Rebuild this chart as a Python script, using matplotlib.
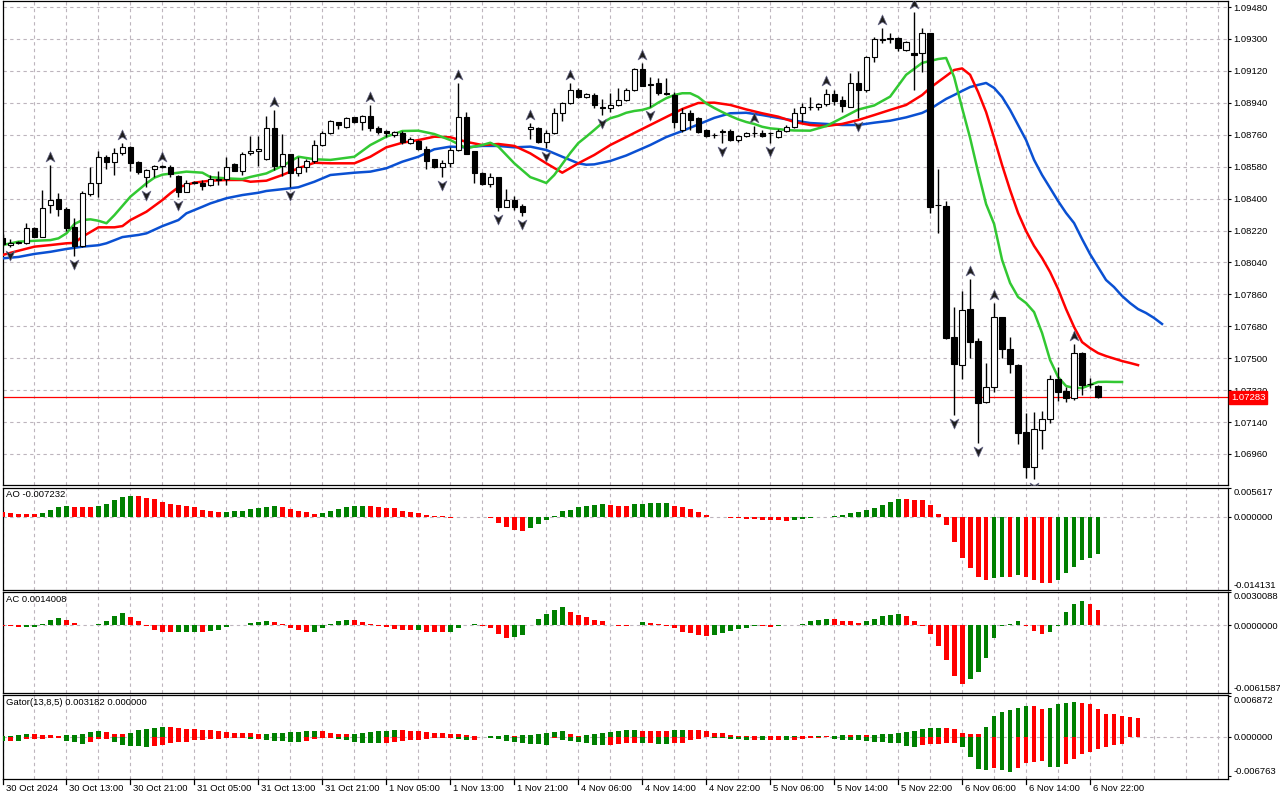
import matplotlib
matplotlib.use("Agg")
import matplotlib.pyplot as plt
import numpy as np
from matplotlib.path import Path
from matplotlib import transforms as mtrans

# ---------------- data ----------------
opens = [1.08178,1.08138,1.08149,1.08149,1.08234,1.08183,1.08364,1.08398,1.08341,1.08240,
1.08133,1.08426,1.08488,1.08634,1.08606,1.08657,1.08691,1.08606,1.08522,1.08567,
1.08584,1.08578,1.08527,1.08437,1.08488,1.08488,1.08477,1.08505,1.08510,1.08595,
1.08556,1.08657,1.08668,1.08623,1.08798,1.08584,1.08651,1.08544,1.08578,1.08612,
1.08702,1.08770,1.08832,1.08804,1.08860,1.08832,1.08866,1.08798,1.08781,1.08759,
1.08770,1.08713,1.08725,1.08680,1.08623,1.08578,1.08601,1.08674,1.08860,1.08668,
1.08544,1.08482,1.08522,1.08352,1.08392,1.08358,1.08792,1.08798,1.08719,1.08770,
1.08883,1.08939,1.09012,1.08973,1.08984,1.08917,1.08911,1.08928,1.08956,1.09012,
1.09131,1.09046,1.09052,1.08996,1.08984,1.08787,1.08883,1.08854,1.08787,1.08759,
1.08776,1.08781,1.08730,1.08753,1.08770,1.08770,1.08770,1.08747,1.08781,1.08804,
1.08883,1.08917,1.08917,1.08933,1.08990,1.08956,1.08917,1.09052,1.09012,1.09199,
1.09300,1.09300,1.09306,1.09238,1.09221,1.09221,1.09334,1.08364,1.08358,1.07619,
1.07461,1.07777,1.07597,1.07253,1.07337,1.07732,1.07552,1.07461,1.07084,1.06886,
1.07095,1.07157,1.07382,1.07315,1.07275,1.07529,1.07354,1.07343]
highs = [1.08200,1.08172,1.08161,1.08262,1.08240,1.08448,1.08589,1.08431,1.08352,1.08290,
1.08443,1.08578,1.08668,1.08646,1.08685,1.08713,1.08697,1.08612,1.08567,1.08589,
1.08589,1.08589,1.08533,1.08505,1.08499,1.08505,1.08533,1.08556,1.08634,1.08601,
1.08663,1.08753,1.08753,1.08866,1.08900,1.08764,1.08651,1.08634,1.08623,1.08730,
1.08781,1.08843,1.08832,1.08860,1.08860,1.08871,1.08928,1.08809,1.08787,1.08781,
1.08781,1.08747,1.08730,1.08697,1.08623,1.08618,1.08691,1.09052,1.08888,1.08668,
1.08550,1.08544,1.08522,1.08454,1.08415,1.08369,1.08826,1.08804,1.08787,1.08911,
1.08945,1.09052,1.09024,1.08996,1.08996,1.08962,1.08996,1.09024,1.09024,1.09137,
1.09165,1.09086,1.09080,1.09080,1.09001,1.08911,1.08900,1.08860,1.08792,1.08770,
1.08792,1.08792,1.08759,1.08776,1.08809,1.08787,1.08776,1.08792,1.08815,1.08911,
1.08939,1.08973,1.08939,1.09018,1.09012,1.08979,1.09108,1.09120,1.09204,1.09311,
1.09362,1.09334,1.09311,1.09289,1.09452,1.09362,1.09334,1.08567,1.08386,1.07789,
1.07879,1.07946,1.07614,1.07473,1.07811,1.07732,1.07619,1.07467,1.07191,1.07196,
1.07202,1.07405,1.07450,1.07337,1.07580,1.07535,1.07388,1.07349]
lows = [1.08133,1.08127,1.08144,1.08144,1.08183,1.08183,1.08319,1.08302,1.08217,1.08076,
1.08127,1.08415,1.08409,1.08567,1.08533,1.08646,1.08556,1.08539,1.08465,1.08522,
1.08573,1.08522,1.08409,1.08437,1.08482,1.08448,1.08471,1.08477,1.08477,1.08556,
1.08533,1.08646,1.08584,1.08618,1.08561,1.08527,1.08465,1.08527,1.08550,1.08601,
1.08697,1.08764,1.08792,1.08798,1.08826,1.08787,1.08781,1.08764,1.08747,1.08747,
1.08708,1.08708,1.08674,1.08567,1.08573,1.08522,1.08578,1.08668,1.08651,1.08488,
1.08477,1.08465,1.08330,1.08352,1.08338,1.08302,1.08736,1.08713,1.08685,1.08764,
1.08838,1.08933,1.08967,1.08967,1.08911,1.08871,1.08888,1.08922,1.08950,1.09007,
1.09035,1.08917,1.08984,1.08984,1.08798,1.08776,1.08787,1.08770,1.08747,1.08742,
1.08713,1.08725,1.08719,1.08747,1.08747,1.08747,1.08713,1.08742,1.08776,1.08798,
1.08832,1.08900,1.08900,1.08922,1.08928,1.08888,1.08917,1.08854,1.09001,1.09170,
1.09278,1.09278,1.09232,1.09232,1.09012,1.09114,1.08319,1.08206,1.07608,1.07179,
1.07382,1.07501,1.07022,1.07247,1.07309,1.07501,1.07416,1.07016,1.06824,1.06818,
1.06988,1.07134,1.07258,1.07253,1.07264,1.07292,1.07332,1.07275]
closes = [1.08144,1.08149,1.08155,1.08234,1.08183,1.08347,1.08392,1.08341,1.08234,1.08133,
1.08431,1.08488,1.08634,1.08606,1.08657,1.08691,1.08601,1.08550,1.08561,1.08584,
1.08578,1.08539,1.08437,1.08488,1.08494,1.08471,1.08510,1.08510,1.08578,1.08556,
1.08651,1.08668,1.08680,1.08798,1.08584,1.08651,1.08544,1.08578,1.08612,1.08702,
1.08770,1.08838,1.08815,1.08854,1.08832,1.08866,1.08798,1.08776,1.08770,1.08776,
1.08719,1.08736,1.08680,1.08612,1.08578,1.08601,1.08674,1.08860,1.08651,1.08544,
1.08482,1.08522,1.08352,1.08392,1.08352,1.08324,1.08804,1.08719,1.08770,1.08883,
1.08939,1.09012,1.08973,1.08990,1.08928,1.08911,1.08928,1.08956,1.09012,1.09131,
1.09035,1.09041,1.08996,1.08990,1.08832,1.08883,1.08843,1.08776,1.08753,1.08757,
1.08781,1.08730,1.08753,1.08770,1.08772,1.08753,1.08768,1.08781,1.08804,1.08883,
1.08917,1.08915,1.08933,1.08990,1.08950,1.08922,1.09052,1.09012,1.09199,1.09300,
1.09294,1.09306,1.09249,1.09283,1.09210,1.09334,1.08352,1.08362,1.07614,1.07467,
1.07772,1.07591,1.07247,1.07337,1.07732,1.07552,1.07467,1.07078,1.06886,1.07100,
1.07157,1.07382,1.07309,1.07275,1.07529,1.07349,1.07352,1.07283]
current_price = 1.07283

# Alligator (read at sampled bars)
jaw_bars = [0,2,4,6,8,10,12,13,15,17,18,20,22,23,25,26,28,30,32,33,35,37,39,41,44,46,48,50,52,54,56,58,60,62,64,66,68,70,72,73,74,76,78,81,83,85,87,89,91,93,95,97,99,101,103,105,107,109,111,113,115,116,117,118,119,120,121,122,123,124,125,126,127,128,129,130,131,132,133,134,135,136,137,138,139,140,141,142,143,144,145]
jaw_vals = [1.08063,1.08071,1.08088,1.08100,1.08116,1.08129,1.08137,1.08148,1.08183,1.08195,1.08204,1.08245,1.08279,1.08317,1.08354,1.08373,1.08402,1.08420,1.08433,1.08443,1.08453,1.08464,1.08495,1.08533,1.08546,1.08552,1.08571,1.08608,1.08636,1.08678,1.08693,1.08689,1.08697,1.08697,1.08689,1.08693,1.08674,1.08636,1.08599,1.08591,1.08593,1.08612,1.08643,1.08702,1.08747,1.08781,1.08818,1.08855,1.08881,1.08884,1.08871,1.08855,1.08840,1.08826,1.08821,1.08815,1.08815,1.08828,1.08839,1.08858,1.08883,1.08905,1.08934,1.08962,1.08984,1.09007,1.09029,1.09041,1.09052,1.09024,1.08973,1.08900,1.08815,1.08730,1.08618,1.08533,1.08460,1.08386,1.08319,1.08262,1.08172,1.08087,1.08014,1.07941,1.07901,1.07851,1.07811,1.07777,1.07755,1.07727,1.07693]
teeth_bars = [0,2,4,6,8,9,10,12,14,15,16,18,20,21,22,24,26,28,30,31,33,35,37,39,41,44,46,48,50,52,54,56,58,60,62,64,66,68,70,72,74,76,78,79,81,83,85,87,89,91,93,95,97,99,101,103,105,107,109,111,113,115,116,117,118,119,120,121,122,123,124,125,126,127,128,129,130,131,132,133,134,135,136,137,138,139,140,141,142]
teeth_vals = [1.08082,1.08106,1.08129,1.08138,1.08148,1.08150,1.08185,1.08238,1.08238,1.08245,1.08279,1.08326,1.08392,1.08430,1.08464,1.08490,1.08501,1.08505,1.08505,1.08495,1.08501,1.08533,1.08571,1.08602,1.08599,1.08599,1.08636,1.08689,1.08715,1.08730,1.08749,1.08746,1.08720,1.08702,1.08708,1.08697,1.08655,1.08599,1.08546,1.08599,1.08646,1.08702,1.08747,1.08770,1.08815,1.08860,1.08905,1.08939,1.08941,1.08928,1.08903,1.08881,1.08862,1.08832,1.08815,1.08809,1.08821,1.08843,1.08871,1.08900,1.08928,1.08984,1.09024,1.09058,1.09091,1.09125,1.09134,1.09098,1.09001,1.08888,1.08742,1.08589,1.08448,1.08319,1.08217,1.08133,1.08065,1.07986,1.07890,1.07777,1.07676,1.07591,1.07557,1.07529,1.07512,1.07498,1.07484,1.07473,1.07461]
lips_bars = [0,2,4,6,7,8,9,10,11,12,13,14,16,18,19,20,22,23,25,26,28,30,31,33,35,37,39,41,44,46,48,50,52,54,56,58,60,61,62,64,66,67,68,69,70,71,72,73,74,75,76,77,78,79,80,81,82,83,84,85,86,87,88,89,90,91,92,93,94,95,96,97,98,99,101,103,105,107,109,111,113,115,117,118,119,120,121,122,123,124,125,126,127,128,129,130,131,132,133,134,135,136,137,138,139,140]
lips_vals = [1.08138,1.08157,1.08162,1.08166,1.08176,1.08204,1.08257,1.08279,1.08283,1.08275,1.08261,1.08307,1.08411,1.08486,1.08518,1.08535,1.08546,1.08552,1.08546,1.08521,1.08514,1.08510,1.08522,1.08542,1.08584,1.08636,1.08622,1.08618,1.08636,1.08702,1.08749,1.08781,1.08783,1.08764,1.08730,1.08684,1.08702,1.08715,1.08693,1.08599,1.08521,1.08505,1.08488,1.08533,1.08595,1.08657,1.08713,1.08749,1.08787,1.08826,1.08853,1.08866,1.08884,1.08894,1.08900,1.08913,1.08941,1.08966,1.08984,1.08994,1.08994,1.08973,1.08937,1.08911,1.08888,1.08866,1.08847,1.08832,1.08821,1.08805,1.08796,1.08792,1.08787,1.08784,1.08783,1.08809,1.08855,1.08902,1.08925,1.08975,1.09098,1.09165,1.09187,1.09193,1.09086,1.08911,1.08742,1.08550,1.08369,1.08257,1.08054,1.07924,1.07845,1.07811,1.07760,1.07642,1.07490,1.07394,1.07343,1.07332,1.07332,1.07349,1.07366,1.07367,1.07366,1.07366]

fractal_up = [6,15,20,34,46,57,66,71,80,94,103,110,114,121,124,134]
fractal_down = [1,9,18,22,36,55,62,65,68,75,81,90,96,107,119,122,129]

# Awesome Oscillator, x1e-3
ao_milli = [0.86,0.66,0.59,0.58,0.57,0.79,1.32,1.78,1.97,1.95,1.78,1.77,1.97,2.37,3.16,3.75,3.95,3.93,3.62,3.36,
2.76,2.50,2.17,1.97,1.78,1.32,1.18,0.97,0.99,1.05,1.18,1.38,1.65,1.91,1.97,1.95,1.38,1.05,0.86,0.59,
0.79,1.18,1.38,1.78,1.97,1.99,1.96,1.78,1.76,1.58,1.18,0.99,0.79,0.39,0.13,0.05,-0.20,-0.05,0.01,-0.05,
-0.10,-0.33,-1.18,-1.97,-2.63,-2.76,-2.10,-1.32,-0.66,0.10,1.18,1.32,1.78,2.11,2.30,2.35,2.15,2.12,2.10,2.37,
2.50,2.55,2.58,2.60,2.11,1.78,1.38,0.99,0.39,-0.02,-0.07,-0.20,-0.33,-0.46,-0.47,-0.59,-0.72,-0.73,-0.92,-0.66,
-0.46,-0.26,-0.13,-0.07,0.20,0.39,0.79,0.86,1.25,1.58,2.24,2.90,3.40,3.36,3.30,3.16,2.17,0.59,-1.65,-4.94,
-7.90,-9.87,-11.58,-12.30,-11.84,-11.65,-11.70,-11.32,-11.66,-12.24,-12.77,-12.80,-12.17,-10.86,-9.67,-8.42,-7.90,-7.232]
# Accelerator Oscillator, x1e-3
ac_milli = [-0.06,-0.09,-0.18,-0.15,-0.14,0.09,0.51,0.70,0.51,0.24,0.00,-0.02,0.09,0.42,0.88,1.15,0.79,0.42,-0.03,-0.45,
-0.64,-0.65,-0.62,-0.60,-0.58,-0.64,-0.54,-0.45,-0.15,0.00,0.06,0.24,0.27,0.36,0.33,0.09,-0.24,-0.42,-0.62,-0.60,
-0.27,0.15,0.42,0.51,0.50,0.33,0.15,-0.03,-0.18,-0.30,-0.39,-0.45,-0.44,-0.57,-0.58,-0.64,-0.57,-0.27,0.06,0.07,
-0.05,-0.27,-0.82,-1.18,-1.09,-0.91,0.00,0.60,1.06,1.39,1.69,1.24,0.97,0.79,0.51,0.36,-0.02,-0.05,-0.09,0.05,
0.27,0.21,0.12,-0.09,-0.24,-0.63,-0.70,-0.88,-0.97,-0.88,-0.73,-0.54,-0.33,-0.24,-0.09,-0.10,-0.15,-0.03,0.00,0.02,
0.09,0.36,0.45,0.54,0.53,0.36,0.35,0.24,0.36,0.54,0.88,0.97,0.98,0.82,0.36,-0.03,-0.79,-1.91,-3.12,-4.57,
-5.32,-4.87,-4.23,-2.96,-1.15,-0.09,0.15,0.36,-0.03,-0.51,-0.79,-0.60,-0.03,1.18,1.94,2.18,1.94,1.4008]
# Gator oscillator, x1e-3
gator_up_milli = [0.11,0.17,0.28,0.45,0.44,0.34,0.23,0.11,0.23,0.34,0.40,0.80,0.97,0.80,0.45,0.44,0.68,1.14,1.36,1.53,
1.65,1.64,1.48,1.36,1.25,1.14,1.13,0.91,0.80,0.63,0.62,0.61,0.45,0.46,0.63,0.64,0.80,0.81,0.97,0.98,
0.96,0.63,0.45,0.44,0.46,0.63,0.80,0.97,0.98,1.14,1.13,0.97,0.96,0.80,0.63,0.62,0.45,0.44,0.28,0.11,
0.03,0.06,0.11,0.23,0.11,0.23,0.28,0.45,0.63,0.80,0.97,0.45,0.06,0.28,0.40,0.55,0.80,0.97,1.08,1.19,
0.97,0.96,0.95,0.94,1.14,1.15,1.13,1.10,0.91,0.68,0.57,0.34,0.11,0.10,0.08,0.10,0.09,0.08,0.10,0.11,
0.10,0.09,0.12,0.11,0.17,0.28,0.27,0.34,0.33,0.34,0.40,0.51,0.57,0.80,0.97,1.36,1.42,1.43,1.42,1.25,
0.68,0.40,0.39,1.70,3.52,4.20,4.55,4.94,5.23,5.20,4.77,4.94,5.51,5.80,5.91,5.80,5.51,4.66,3.92,3.81,
3.52,3.41,3.182]
gator_down_milli = [-0.68,-0.68,-0.69,-0.40,-0.34,-0.33,-0.28,-0.23,-0.68,-0.97,-1.25,-0.91,-0.40,-0.34,-0.85,-1.42,-1.53,-1.59,-1.70,-1.53,
-1.42,-1.02,-0.85,-0.84,-0.57,-0.56,-0.40,-0.34,-0.17,-0.16,-0.15,-0.34,-0.33,-0.57,-0.68,-0.69,-0.85,-0.86,-0.68,-0.34,
-0.17,-0.16,-0.34,-0.51,-0.85,-1.02,-1.03,-1.04,-1.02,-0.85,-0.68,-0.51,-0.50,-0.34,-0.17,-0.16,-0.15,-0.34,-0.51,-0.50,
-0.10,-0.17,-0.40,-0.68,-0.85,-1.02,-1.19,-1.20,-1.42,-0.25,-0.51,-0.68,-0.91,-1.14,-1.42,-1.48,-1.40,-1.25,-1.15,-1.05,
-1.06,-1.00,-1.19,-1.20,-1.02,-1.00,-0.60,-0.35,-0.06,-0.17,-0.18,-0.45,-0.46,-0.62,-0.61,-0.63,-0.60,-0.55,-0.57,-0.50,
-0.45,-0.30,-0.17,-0.10,-0.34,-0.62,-0.63,-0.64,-0.74,-0.85,-0.86,-1.02,-1.14,-1.59,-1.70,-1.48,-1.31,-1.19,-1.02,-1.00,
-1.76,-3.41,-5.57,-5.68,-5.28,-5.68,-5.97,-5.28,-4.43,-4.32,-4.20,-5.17,-5.18,-4.60,-3.75,-3.01,-2.61,-2.10,-1.70,-1.48,
-1.30]

time_labels = ["30 Oct 2024","30 Oct 13:00","30 Oct 21:00","31 Oct 05:00","31 Oct 13:00","31 Oct 21:00",
               "1 Nov 05:00","1 Nov 13:00","1 Nov 21:00","4 Nov 06:00","4 Nov 14:00","4 Nov 22:00",
               "5 Nov 06:00","5 Nov 14:00","5 Nov 22:00","6 Nov 06:00","6 Nov 14:00","6 Nov 22:00"]

ao_title = "AO -0.007232"
ac_title = "AC 0.0014008"
gator_title = "Gator(13,8,5) 0.003182 0.000000"

# ---------------- styling ----------------
plt.rcParams['font.family'] = ['Liberation Sans', 'DejaVu Sans']
FS = 6.8
UP, DN = '#008000', '#ff0000'
GRID = dict(color='#bdb5bd', linestyle=(0, (3, 3)), linewidth=0.8)

W, H = 1280, 800
fig = plt.figure(figsize=(12.8, 8), dpi=100)
fig.patch.set_facecolor('white')
LEFT, RIGHT = 2.5, 1228.0

def add_panel(top, bot):
    return fig.add_axes([LEFT / W, 1 - bot / H, (RIGHT - LEFT) / W, (bot - top) / H])

ax = add_panel(0.5, 485)
ax_ao = add_panel(487.5, 590)
ax_ac = add_panel(592, 693.3)
ax_gt = add_panel(695.3, 779.3)
axes = [ax, ax_ao, ax_ac, ax_gt]

n = len(closes)
x = np.arange(n)
XMIN, XMAX = 0.0625, 153.25
for a in axes:
    a.set_xlim(XMIN, XMAX)
    a.set_xticks(np.arange(0, 154, 4))
    a.tick_params(axis='x', length=0, labelbottom=False)
    a.grid(axis='x', **GRID)
    a.set_axisbelow(True)
    for s in a.spines.values():
        s.set_color('black')
        s.set_linewidth(0.9)
    a.yaxis.tick_right()
    a.tick_params(axis='y', direction='out', length=2.5, width=0.8, labelsize=FS,
                  pad=1.2, colors='black')
    a.set_facecolor('white')

# ---- main price panel ----
ax.set_ylim(1.06785, 1.09517)
pt = 1.06960 + 0.0018 * np.arange(15)
ax.set_yticks(pt)
ax.set_yticklabels([f"{v:.5f}" for v in pt])
ax.grid(axis='y', **GRID)

o = np.array(opens); h = np.array(highs); l = np.array(lows); c = np.array(closes)
ax.vlines(x, l, h, color='black', linewidth=1.0, zorder=4)
bottoms = np.minimum(o, c)
heights = np.maximum(np.abs(c - o), 0.000012)
faces = ['white' if cc >= oo else 'black' for oo, cc in zip(o, c)]
ax.bar(x, heights, bottom=bottoms, width=0.66, color=faces, edgecolor='black',
       linewidth=0.8, zorder=5)

ax.plot(jaw_bars, jaw_vals, color='#0a50d2', linewidth=1.8, zorder=3, solid_joinstyle='round')
ax.plot(teeth_bars, teeth_vals, color='#ff0000', linewidth=1.8, zorder=3, solid_joinstyle='round')
ax.plot(lips_bars, lips_vals, color='#32c832', linewidth=1.8, zorder=3, solid_joinstyle='round')

ax.axhline(current_price, color='#ff0000', linewidth=0.9, zorder=2)
ax.text(1.0, current_price, f"{current_price:.5f}",
        transform=mtrans.offset_copy(mtrans.blended_transform_factory(ax.transAxes, ax.transData),
                                     fig=fig, x=3, y=-1, units='dots'),
        ha='left', va='center', fontsize=FS, color='white', clip_on=False, zorder=10,
        bbox=dict(boxstyle='square,pad=0.2', facecolor='#ff0000', edgecolor='#ff0000'))

up_marker = Path([(0, 1), (0.8, -0.8), (0, -0.3), (-0.8, -0.8), (0, 1)],
                 [Path.MOVETO, Path.LINETO, Path.LINETO, Path.LINETO, Path.CLOSEPOLY])
dn_marker = Path([(0, -1), (0.8, 0.8), (0, 0.3), (-0.8, 0.8), (0, -1)],
                 [Path.MOVETO, Path.LINETO, Path.LINETO, Path.LINETO, Path.CLOSEPOLY])
ax.plot(fractal_up, [highs[i] for i in fractal_up], linestyle='none', marker=up_marker,
        markersize=8, markerfacecolor='#1e1e1e', markeredgecolor='#6a6a8a', markeredgewidth=0.5,
        transform=mtrans.offset_copy(ax.transData, fig=fig, x=0, y=8, units='dots'), zorder=6)
ax.plot(fractal_down, [lows[i] for i in fractal_down], linestyle='none', marker=dn_marker,
        markersize=8, markerfacecolor='#1e1e1e', markeredgecolor='#6a6a8a', markeredgewidth=0.5,
        transform=mtrans.offset_copy(ax.transData, fig=fig, x=0, y=-8, units='dots'), zorder=6)

# ---- helpers for oscillator panels ----
def colors_of(vals, absolute=False, first_up=False):
    out = []
    for i, v in enumerate(vals):
        if i == 0:
            out.append(UP if first_up else DN)
            continue
        a, b = (abs(v), abs(vals[i - 1])) if absolute else (v, vals[i - 1])
        out.append(UP if a > b else DN)
    return out

def edge_labels(a, vals, texts):
    a.set_yticks(vals)
    a.set_yticklabels(texts)
    labs = a.get_yticklabels()
    labs[0].set_verticalalignment('top')
    labs[-1].set_verticalalignment('bottom')

def zero_line(a):
    a.axhline(0, **GRID, zorder=1)

def title(a, s):
    a.text(3 / (RIGHT - LEFT), 1 - 2.5 / (a.get_position().height * H), s, transform=a.transAxes,
           ha='left', va='top', fontsize=FS, color='black')

# AO
ao = np.array(ao_milli) * 1e-3
ax_ao.set_ylim(-0.014131, 0.005617)
zero_line(ax_ao)
ax_ao.bar(np.arange(len(ao)), ao, width=0.6, color=colors_of(list(ao)), zorder=3)
edge_labels(ax_ao, [0.005617, 0.0, -0.014131], ["0.005617", "0.000000", "-0.014131"])
title(ax_ao, ao_title)

# AC
ac = np.array(ac_milli) * 1e-3
ax_ac.set_ylim(-0.0061587, 0.0030088)
zero_line(ax_ac)
ax_ac.bar(np.arange(len(ac)), ac, width=0.6, color=colors_of(list(ac)), zorder=3)
edge_labels(ax_ac, [0.0030088, 0.0, -0.0061587], ["0.0030088", "0.0000000", "-0.0061587"])
title(ax_ac, ac_title)

# Gator
gu = np.array(gator_up_milli) * 1e-3
gd = np.array(gator_down_milli) * 1e-3
ax_gt.set_ylim(-0.00726, 0.00705)
zero_line(ax_gt)
ax_gt.bar(np.arange(len(gu)), gu, width=0.6, color=colors_of(list(gu), first_up=True), zorder=3)
ax_gt.bar(np.arange(len(gd)), gd, width=0.6, color=colors_of(list(gd), absolute=True, first_up=True), zorder=3)
edge_labels(ax_gt, [0.006872, 0.0, -0.006763], ["0.006872", "0.000000", "-0.006763"])
title(ax_gt, gator_title)

# time axis
label_bars = list(range(0, n, 8))[:len(time_labels)]
blend = mtrans.blended_transform_factory(ax_gt.transData, ax_gt.transAxes)
txt_tr = mtrans.offset_copy(blend, fig=fig, x=3, y=-9, units='dots')
for b, s in zip(label_bars, time_labels):
    ax_gt.plot([b, b], [0, -4.5 / 84], transform=blend, color='black', linewidth=0.9, clip_on=False)
    ax_gt.text(b, 0, s, transform=txt_tr, ha='left', va='center', fontsize=FS, clip_on=False)

fig.savefig("out.png", dpi=100, facecolor='white')
